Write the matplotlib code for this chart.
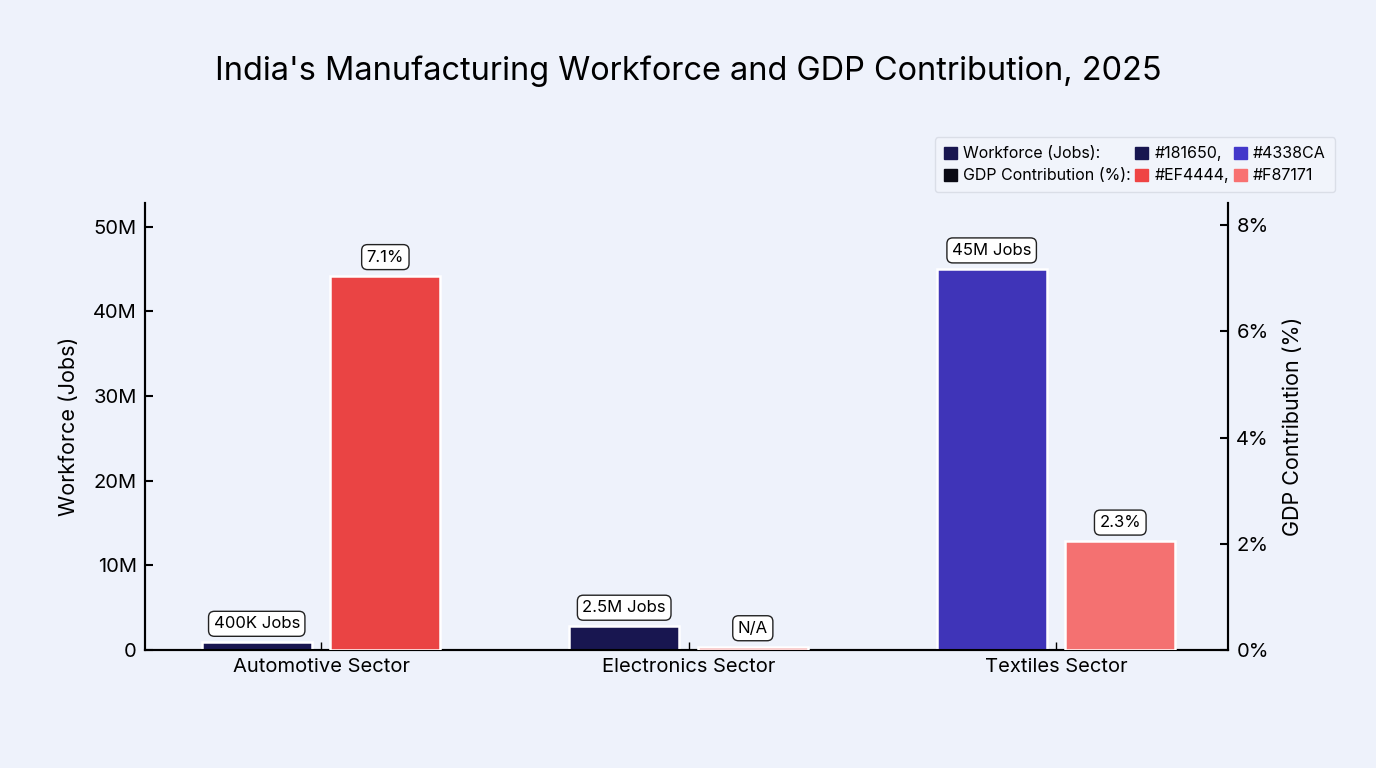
import numpy as np
import matplotlib
matplotlib.use("Agg")
from matplotlib import pyplot as plt
from matplotlib.patches import Patch
from matplotlib.ticker import FuncFormatter

plt.rcParams["font.family"] = ["Inter", "DejaVu Sans"]

# data
sectors = ["Automotive Sector", "Electronics Sector", "Textiles Sector"]
workforce_m = [0.9, 2.8, 45.0]          # millions of jobs (bar heights)
gdp_pct = [7.05, 0.06, 2.05]            # percent of GDP (bar heights)
workforce_labels = ["400K Jobs", "2.5M Jobs", "45M Jobs"]
gdp_labels = ["7.1%", "N/A", "2.3%"]
workforce_colors = ["#181650", "#181650", "#3F34B8"]
gdp_colors = ["#EA4444", "#EA4444", "#F47171"]

BG = "#eef2fb"

fig = plt.figure(figsize=(13.76, 7.68), dpi=100, facecolor=BG)
ax = fig.add_axes([0.1054, 0.1536, 0.787, 0.5821], facecolor=BG)
ax2 = ax.twinx()

x = np.arange(len(sectors))
width = 0.30
off = 0.175

wf_bars = ax.bar(x - off, workforce_m, width, color=workforce_colors,
                 edgecolor="white", linewidth=1.8, zorder=3)
gdp_bars = ax2.bar(x + off, gdp_pct, width, color=gdp_colors,
                   edgecolor="white", linewidth=1.8, zorder=3)

box = dict(boxstyle="round,pad=0.3,rounding_size=0.35", fc="white", ec="#222222", lw=1.0)
for b, lab in zip(wf_bars, workforce_labels):
    ax.annotate(lab, (b.get_x() + b.get_width() / 2, b.get_height()),
                xytext=(0, 8), textcoords="offset points", ha="center", va="bottom",
                fontsize=12, bbox=box, zorder=5)
for b, lab in zip(gdp_bars, gdp_labels):
    ax2.annotate(lab, (b.get_x() + b.get_width() / 2, b.get_height()),
                 xytext=(0, 8), textcoords="offset points", ha="center", va="bottom",
                 fontsize=12, bbox=box, zorder=5)

ax.set_xlim(-0.479, 2.468)
ax.set_ylim(0, 52.8)
ax2.set_ylim(0, 8.42)
ax.set_yticks([0, 10, 20, 30, 40, 50])
ax.yaxis.set_major_formatter(FuncFormatter(lambda v, p: "0" if v == 0 else f"{v:.0f}M"))
ax2.set_yticks([0, 2, 4, 6, 8])
ax2.yaxis.set_major_formatter(FuncFormatter(lambda v, p: f"{v:.0f}%"))
ax.set_xticks(x)
ax.set_xticklabels(sectors, fontsize=14.5)

ax.tick_params(axis="y", direction="in", length=6, width=1.5, labelsize=14.5, pad=6)
ax2.tick_params(axis="y", direction="in", length=6, width=1.5, labelsize=14.5, pad=6)
ax.tick_params(axis="x", direction="in", length=6, width=1, pad=6)

for a in (ax, ax2):
    a.spines["top"].set_visible(False)
    for s in ("left", "right", "bottom"):
        a.spines[s].set_linewidth(1.5)
        a.spines[s].set_color("black")

ax.set_ylabel("Workforce (Jobs)", fontsize=15.5, labelpad=10)
ax2.set_ylabel("GDP Contribution (%)", fontsize=15.5, labelpad=10)

fig.suptitle("India's Manufacturing Workforce and GDP Contribution, 2025",
             fontsize=23.4, y=0.928)

handles = [Patch(color="#181650"), Patch(color="#0a0a14"),
           Patch(color="#181650"), Patch(color="#EF4444"),
           Patch(color="#4338CA"), Patch(color="#F87171")]
labels = ["Workforce (Jobs):", "GDP Contribution (%):",
          "#181650,", "#EF4444,", "#4338CA", "#F87171"]
leg = fig.legend(handles, labels, ncol=3, loc="upper right",
                 bbox_to_anchor=(0.970, 0.821), borderaxespad=0,
                 fontsize=11.5, frameon=True,
                 handlelength=0.8, handleheight=0.8, handletextpad=0.4,
                 columnspacing=0.3, borderpad=0.55, labelspacing=0.45)
leg.get_frame().set_facecolor("#f3f5fc")
leg.get_frame().set_edgecolor("#d5d9e3")

fig.savefig("out.png", dpi=100, facecolor=BG)
